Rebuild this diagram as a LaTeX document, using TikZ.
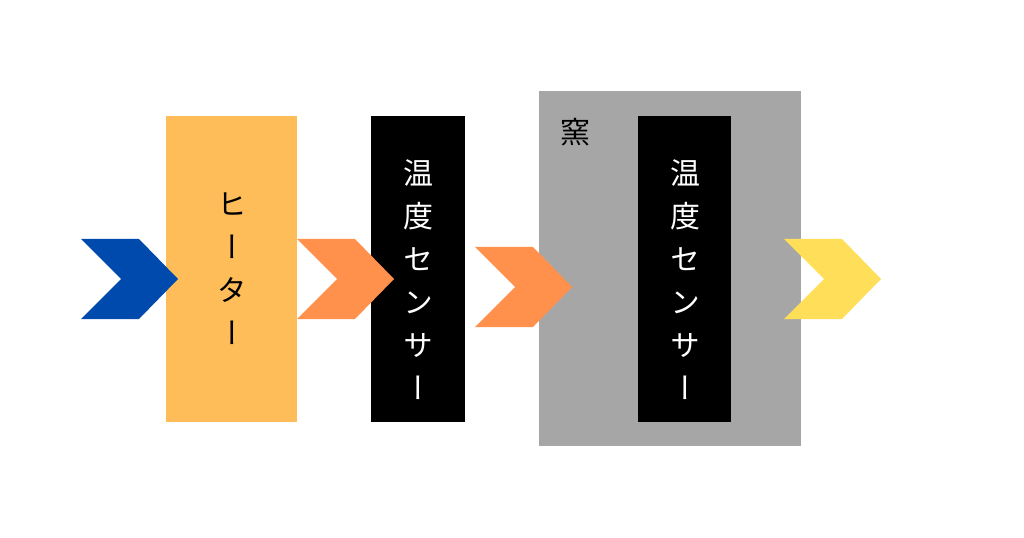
\documentclass[tikz,border=0pt]{standalone}
\usepackage{fontspec}
\newfontfamily\jpv[RawFeature=+vert]{Noto Sans CJK JP}
\newfontfamily\jp{Noto Sans CJK JP}
\definecolor{cblue}{HTML}{004AAD}
\definecolor{cheater}{HTML}{FFBD59}
\definecolor{corange}{HTML}{FF914D}
\definecolor{cyellow}{HTML}{FFDE59}
\definecolor{cgray}{HTML}{A6A6A6}
\tikzset{
  block/.style={draw=none, inner sep=0pt, rectangle},
  vlabel/.style={inner sep=0pt, align=center, font=\jpv\fontsize{22.5}{32.25}\selectfont},
  chev/.pic={\fill (0,0) -- (58,0) -- (97,40) -- (58,80) -- (0,80) -- (40,40) -- cycle;}
}
\begin{document}
\begin{tikzpicture}[x=0.75pt,y=-0.75pt]
\useasboundingbox (0,0) rectangle (1024,538);
\fill[white] (0,0) rectangle (1024,538);
% boxes
\node[block, fill=cheater, minimum width=98.25pt, minimum height=229.5pt] (heater) at (231.5,269) {};
\node[block, fill=black, minimum width=70.5pt, minimum height=229.5pt] (sensA) at (418,269) {};
\node[block, fill=cgray, minimum width=196.5pt, minimum height=266.25pt] (kiln) at (670,268.5) {};
\node[block, fill=black, minimum width=69.75pt, minimum height=229.5pt] (sensB) at (684.5,269) {};
% labels
\node[vlabel, text=black] (heaterT) at (232,269) {ヒ\\ー\\タ\\ー};
\node[vlabel, text=white] (sensAT) at (418,280) {温\\度\\セ\\ン\\サ\\ー};
\node[vlabel, text=white] (sensBT) at (685,280) {温\\度\\セ\\ン\\サ\\ー};
\node[inner sep=0pt, font=\jp\fontsize{22.5}{26}\selectfont] (kilnT) at (575,132) {窯};
% chevrons
\pic[cblue] at (81,239) {chev};
\pic[corange] at (297,239) {chev};
\pic[corange] at (475,247) {chev};
\pic[cyellow] at (784,239) {chev};
\end{tikzpicture}
\end{document}
